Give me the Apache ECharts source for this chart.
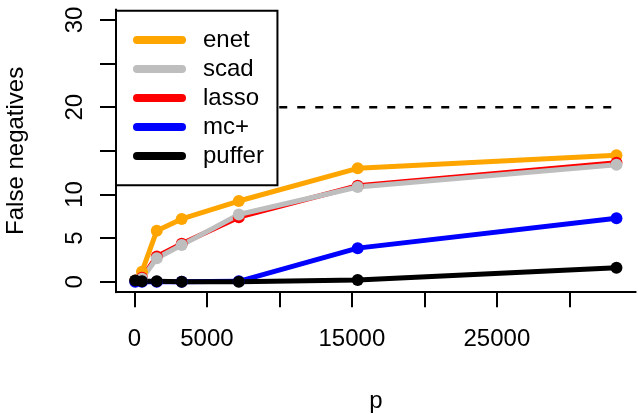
<!DOCTYPE html>
<html><head><meta charset="utf-8">
<script src="https://cdn.jsdelivr.net/npm/echarts@6/dist/echarts.min.js"></script>
<style>html,body{margin:0;padding:0;background:#fff}#c{width:638px;height:414px}</style>
</head><body><div id="c"></div>
<script>
// ---- data ----
const p      = [55, 520, 1540, 3260, 7200, 15400, 33250];
const enet   = [0.15, 1.15, 5.85, 7.2, 9.25, 13.0, 14.5];
const scad   = [0.1, 0.35, 2.7, 4.2, 7.7, 10.85, 13.4];
const lasso  = [0.1, 0.45, 2.9, 4.35, 7.4, 11.0, 13.65];
const mcplus = [0.0, 0.0, 0.0, 0.0, 0.05, 3.85, 7.27];
const puffer = [0.15, 0.05, 0.05, 0.0, 0.0, 0.2, 1.6];
const refLevel = 20;
const legendNames = ['enet', 'scad', 'lasso', 'mc+', 'puffer'];
const xTickValues = [0, 5000, 10000, 15000, 20000, 25000, 30000];
const xTickLabels = ['0', '5000', '', '15000', '', '25000', ''];
const yTickValues = [0, 5, 10, 15, 20, 25, 30];
const yTickLabels = ['0', '5', '10', '', '20', '', '30'];

const FONT = 'Liberation Sans, Arial, Helvetica, sans-serif';
const FS = 24;
const colors = {enet:'#FFA500', scad:'#BEBEBE', lasso:'#FF0000', 'mc+':'#0000FF', puffer:'#000000'};
const values = {enet:enet, scad:scad, lasso:lasso, 'mc+':mcplus, puffer:puffer};
const drawOrder = ['enet', 'lasso', 'scad', 'mc+', 'puffer'];

const xPad = (p[p.length-1] - p[0]) * 0.04;
const yPad = (yTickValues[yTickValues.length-1] - yTickValues[0]) * 0.04;

function mkSeries(name){
  return {
    name: name, type: 'line',
    data: p.map((x, i) => [x, values[name][i]]),
    symbol: 'circle', symbolSize: 12, showSymbol: true,
    lineStyle: {color: colors[name], width: 5},
    itemStyle: {color: colors[name], borderWidth: 0},
    emphasis: {disabled: true}, clip: false, z: 2
  };
}

const series = drawOrder.map(mkSeries);
series.push({
  name: 'ref', type: 'line',
  data: [[p[0], refLevel], [p[p.length-1], refLevel]],
  symbol: 'none', lineStyle: {color: '#000', width: 2.5, type: [8, 10]},
  emphasis: {disabled: true}, z: 1
});

const chart = echarts.init(document.getElementById('c'), null, {renderer: 'canvas'});
chart.setOption({
  animation: false,
  backgroundColor: '#fff',
  grid: {left: 116, right: 2.3, top: 9.5, bottom: 121.8, containLabel: false, outerBoundsMode: 'none'},
  xAxis: {
    type: 'value', min: p[0] - xPad, max: p[p.length-1] + xPad,
    axisLine: {show: true, onZero: false, lineStyle: {color: '#000', width: 2}},
    axisTick: {show: true, customValues: xTickValues, length: 15, lineStyle: {color: '#000', width: 2}},
    axisLabel: {show: true, customValues: xTickValues, margin: 35, fontFamily: FONT, fontSize: FS, color: '#000',
      hideOverlap: false,
      formatter: v => { const i = xTickValues.indexOf(v); return i >= 0 ? xTickLabels[i] : ''; }},
    splitLine: {show: false},
    name: 'p', nameLocation: 'middle', nameGap: 97,
    nameTextStyle: {fontFamily: FONT, fontSize: FS, color: '#000'}
  },
  yAxis: {
    type: 'value', min: -yPad, max: yTickValues[yTickValues.length-1] + yPad,
    axisLine: {show: true, onZero: false, lineStyle: {color: '#000', width: 2}},
    axisTick: {show: true, customValues: yTickValues, length: 16, lineStyle: {color: '#000', width: 2}},
    axisLabel: {show: true, customValues: yTickValues, margin: 29, rotate: 90, fontFamily: FONT, fontSize: FS, color: '#000',
      hideOverlap: false,
      formatter: v => { const i = yTickValues.indexOf(v); return i >= 0 ? yTickLabels[i] : ''; }},
    splitLine: {show: false},
    name: 'False negatives', nameLocation: 'middle', nameGap: 88, nameRotate: 90,
    nameTextStyle: {fontFamily: FONT, fontSize: FS, color: '#000'}
  },
  legend: {
    data: legendNames, left: 116, top: 10.7, orient: 'vertical', align: 'left',
    padding: [14.8, 13.5, 14.8, 17], itemGap: 0, itemWidth: 53, itemHeight: 8,
    icon: 'path://M4,0L49,0A4,4,0,0,1,49,8L4,8A4,4,0,0,1,4,0Z',
    backgroundColor: '#fff', borderColor: '#000', borderWidth: 2, borderRadius: 0,
    itemStyle: {borderWidth: 0},
    textStyle: {fontFamily: FONT, fontSize: FS, color: '#000', lineHeight: 29, padding: [0, 0, 0, 12]},
    selectedMode: false, z: 10
  },
  series: series
});
</script>
</body></html>
